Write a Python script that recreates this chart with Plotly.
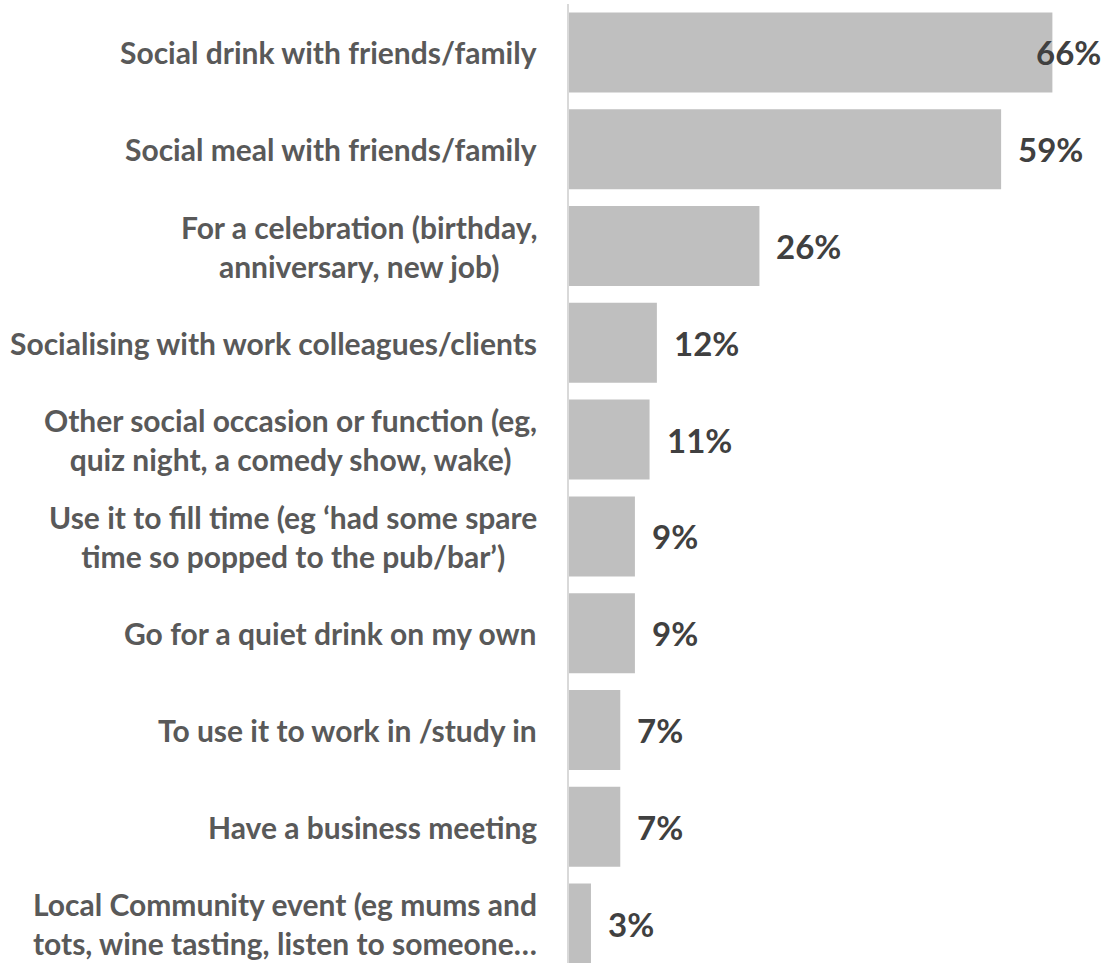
import plotly.graph_objects as go

# Occasion categories, top to bottom
categories = [
    "Social drink with friends/family",
    "Social meal with friends/family",
    "For a celebration (birthday,<br>anniversary, new job)",
    "Socialising with work colleagues/clients",
    "Other social occasion or function (eg,<br>quiz night, a comedy show, wake)",
    "Use it to fill time (eg \u2018had some spare<br>time so popped to the pub/bar\u2019)",
    "Go for a quiet drink on my own",
    "To use it to work in /study in",
    "Have a business meeting",
    "Local Community event (eg mums and<br>tots, wine tasting, listen to someone\u2026",
]
# Share of respondents (%)
values = [66, 59, 26, 12, 11, 9, 9, 7, 7, 3]
value_labels = ["66%", "59%", "26%", "12%", "11%", "9%", "9%", "7%", "7%", "3%"]

positions = list(range(len(categories)))

FONT = "Lato"
BAR_COLOR = "#BFBFBF"
LABEL_COLOR = "#595959"
VALUE_COLOR = "#404040"

X_MAX = 72.5

fig = go.Figure(
    go.Bar(
        x=values,
        y=positions,
        orientation="h",
        width=0.826,
        marker=dict(color=BAR_COLOR, line=dict(width=0)),
        hoverinfo="skip",
    )
)

annotations = []
# Category labels, right-aligned against the axis, lines centred within the block
for pos, cat in zip(positions, categories):
    annotations.append(dict(
        xref="paper", yref="y", x=0, y=pos,
        xanchor="right", yanchor="middle", xshift=-30,
        text=cat, showarrow=False, align="center",
        font=dict(family=FONT, size=30, color=LABEL_COLOR, weight="bold"),
    ))

# Value labels just past the bar end; pulled back inside the plot when they would overflow
label_width_units = 11.0
for pos, v, lab in zip(positions, values, value_labels):
    if v + label_width_units > X_MAX:
        annotations.append(dict(
            xref="x", yref="y", x=X_MAX, y=pos, xanchor="right", yanchor="middle",
            xshift=3, text=lab, showarrow=False,
            font=dict(family=FONT, size=33, color=VALUE_COLOR, weight="bold"),
        ))
    else:
        annotations.append(dict(
            xref="x", yref="y", x=v, y=pos, xanchor="left", yanchor="middle", xshift=15,
            text=lab, showarrow=False,
            font=dict(family=FONT, size=33, color=VALUE_COLOR, weight="bold"),
        ))

fig.update_layout(
    width=1107,
    height=963,
    margin=dict(l=569, r=7, t=4, b=0),
    paper_bgcolor="white",
    plot_bgcolor="white",
    showlegend=False,
    bargap=0.174,
    annotations=annotations,
    xaxis=dict(range=[0, X_MAX], visible=False, fixedrange=True),
    yaxis=dict(
        range=[9.407, -0.5],
        showticklabels=False,
        showgrid=False,
        zeroline=False,
        showline=True,
        linecolor="#D9D9D9",
        linewidth=1.5,
        ticks="",
        fixedrange=True,
    ),
)

fig.write_html("out.html")
